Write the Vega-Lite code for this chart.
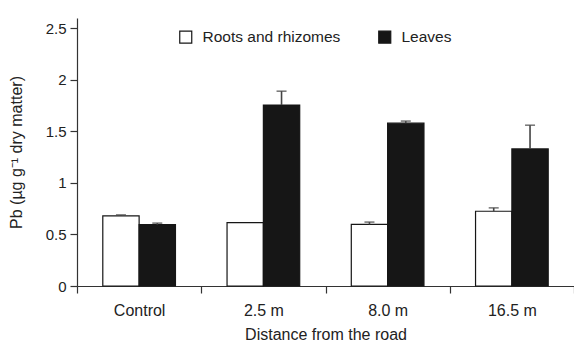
{
  "$schema": "https://vega.github.io/schema/vega-lite/v6.json",
  "width": 497,
  "height": 268,
  "autosize": {"type": "none"},
  "padding": {"left": 77, "top": 18, "right": 0, "bottom": 58},
  "background": "white",
  "config": {
    "view": {"stroke": null},
    "font": "Liberation Sans",
    "axis": {
      "domainColor": "#333333",
      "tickColor": "#333333",
      "labelColor": "#222222",
      "titleColor": "#222222",
      "labelFont": "Liberation Sans",
      "titleFont": "Liberation Sans",
      "titleFontWeight": "normal",
      "grid": false,
      "domainWidth": 1.2,
      "tickWidth": 1.2
    },
    "legend": {
      "labelFont": "Liberation Sans",
      "labelColor": "#222222"
    }
  },
  "data": {
    "values": [
      {"site": "Control", "part": "Roots and rhizomes", "value": 0.68, "upper": 0.69},
      {"site": "Control", "part": "Leaves", "value": 0.595, "upper": 0.61},
      {"site": "2.5 m", "part": "Roots and rhizomes", "value": 0.615, "upper": null},
      {"site": "2.5 m", "part": "Leaves", "value": 1.755, "upper": 1.89},
      {"site": "8.0 m", "part": "Roots and rhizomes", "value": 0.597, "upper": 0.62},
      {"site": "8.0 m", "part": "Leaves", "value": 1.58, "upper": 1.60},
      {"site": "16.5 m", "part": "Roots and rhizomes", "value": 0.725, "upper": 0.758},
      {"site": "16.5 m", "part": "Leaves", "value": 1.33, "upper": 1.56}
    ]
  },
  "encoding": {
    "x": {
      "field": "site",
      "type": "nominal",
      "sort": ["Control", "2.5 m", "8.0 m", "16.5 m"],
      "scale": {"paddingInner": 0, "paddingOuter": 0},
      "axis": {
        "title": "Distance from the road",
        "labelAngle": 0,
        "tickBand": "extent",
        "tickSize": 7,
        "labelFontSize": 16,
        "labelPadding": 9,
        "titleFontSize": 16,
        "titlePadding": 8
      }
    },
    "xOffset": {
      "field": "part",
      "type": "nominal",
      "sort": ["Roots and rhizomes", "Leaves"],
      "scale": {"paddingInner": 0, "paddingOuter": 0.71}
    }
  },
  "layer": [
    {
      "mark": {"type": "bar", "stroke": "#161616", "strokeWidth": 1.2},
      "encoding": {
        "y": {
          "field": "value",
          "type": "quantitative",
          "scale": {"domain": [0, 2.5]},
          "axis": {
            "title": "Pb (µg g⁻¹ dry matter)",
            "values": [0, 0.5, 1, 1.5, 2, 2.5],
            "format": "~g",
            "tickSize": 7,
            "labelPadding": 4,
            "labelFontSize": 15,
            "titleFontSize": 16,
            "titlePadding": 21
          }
        },
        "fill": {
          "field": "part",
          "type": "nominal",
          "sort": ["Roots and rhizomes", "Leaves"],
          "scale": {"range": ["white", "#161616"]},
          "legend": {
            "title": null,
            "orient": "none",
            "direction": "horizontal",
            "legendX": 101,
            "legendY": 11,
            "symbolType": "square",
            "symbolSize": 144,
            "symbolStrokeColor": "#161616",
            "symbolStrokeWidth": 1.2,
            "symbolOpacity": 1,
            "labelFontSize": 15.5,
            "labelOffset": 9,
            "columnPadding": 35
          }
        }
      }
    },
    {
      "transform": [{"filter": "datum.upper != null"}],
      "mark": {"type": "rule", "color": "#444444", "strokeWidth": 1.6},
      "encoding": {
        "y": {"field": "value", "type": "quantitative"},
        "y2": {"field": "upper"}
      }
    },
    {
      "transform": [{"filter": "datum.upper != null"}],
      "mark": {"type": "tick", "color": "#444444", "size": 10, "thickness": 1.6, "orient": "horizontal"},
      "encoding": {
        "y": {"field": "upper", "type": "quantitative"}
      }
    }
  ]
}
